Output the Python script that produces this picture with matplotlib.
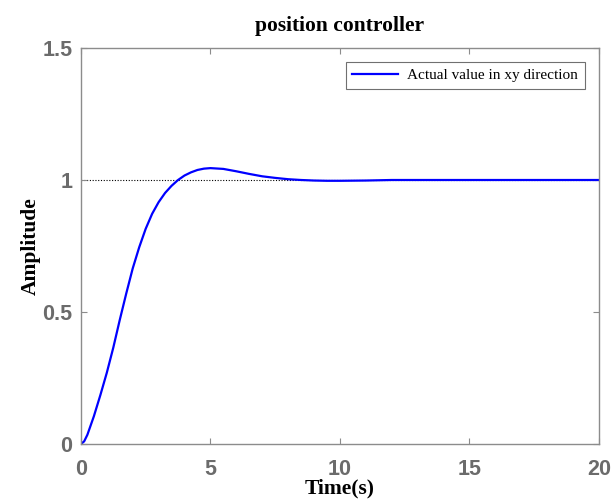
import matplotlib
matplotlib.use("Agg")
import matplotlib.pyplot as plt

# Step response
time_s = [0, 0.125, 0.25, 0.5, 0.75, 1.0, 1.25, 1.5, 1.75, 2.0, 2.25, 2.5, 2.75, 3.0,
          3.25, 3.5, 3.75, 4.0, 4.25, 4.5, 4.75, 5.0, 5.5, 6.0, 6.5, 7.0, 7.5,
          8.0, 8.5, 9.0, 9.5, 10.0, 11.0, 12.0, 14.0, 16.0, 18.0, 20.0]
amplitude = [0, 0.01, 0.035, 0.105, 0.185, 0.27, 0.365, 0.47, 0.57, 0.665, 0.745,
             0.815, 0.872, 0.916, 0.951, 0.978, 1.0, 1.017, 1.029, 1.038, 1.043,
             1.045, 1.042, 1.033, 1.023, 1.014, 1.008, 1.003, 1.0, 0.998, 0.997,
             0.997, 0.998, 1.0, 1.0, 1.0, 1.0, 1.0]
reference_level = 1.0
xticks = [0, 5, 10, 15, 20]
yticks = [0, 0.5, 1, 1.5]
ytick_labels = ["0", "0.5", "1", "1.5"]
title = "position controller"
xlabel = "Time(s)"
ylabel = "Amplitude"
legend_label = "Actual value in xy direction"

fig = plt.figure(figsize=(6.13, 5.0), dpi=100)
ax = fig.add_axes([0.132, 0.112, 0.845, 0.792])

ax.plot([xticks[0], xticks[-1]], [reference_level, reference_level],
        color="black", linestyle=(0, (1, 1.5)), linewidth=0.8, zorder=1)
ax.plot(time_s, amplitude, color="#0000ff", linewidth=1.6, label=legend_label, zorder=2)

ax.set_xlim(0, 20)
ax.set_ylim(0, 1.5)
ax.set_xticks(xticks)
ax.set_yticks(yticks)
ax.set_yticklabels(ytick_labels)

tick_color = "#6b6b6b"
spine_color = "#8c8c8c"
for s in ax.spines.values():
    s.set_color(spine_color)
    s.set_linewidth(1.0)
ax.tick_params(direction="in", length=4, width=0.8, color=spine_color,
               top=True, right=True, labelcolor=tick_color)
ax.tick_params(axis="x", pad=11)
ax.tick_params(axis="y", pad=6)
for lab in ax.get_xticklabels() + ax.get_yticklabels():
    lab.set_fontfamily("Liberation Sans")
    lab.set_fontweight("bold")
    lab.set_fontsize(15.5)

ax.set_title(title, fontfamily="Liberation Serif", fontweight="bold",
             fontsize=15.5, pad=12)
ax.set_xlabel(xlabel, fontfamily="Liberation Serif", fontweight="bold",
              fontsize=15.5, labelpad=-1)
ax.set_ylabel(ylabel, fontfamily="Liberation Serif", fontweight="bold",
              fontsize=15.5, labelpad=1)

leg = ax.legend(loc="upper right", prop={"family": "Liberation Serif", "size": 11},
                fancybox=False, framealpha=1, edgecolor="#707070",
                handlelength=3.0, handletextpad=0.6, borderaxespad=0.9,
                borderpad=0.45)
leg.get_frame().set_linewidth(0.8)

fig.savefig("out.png", dpi=100)
